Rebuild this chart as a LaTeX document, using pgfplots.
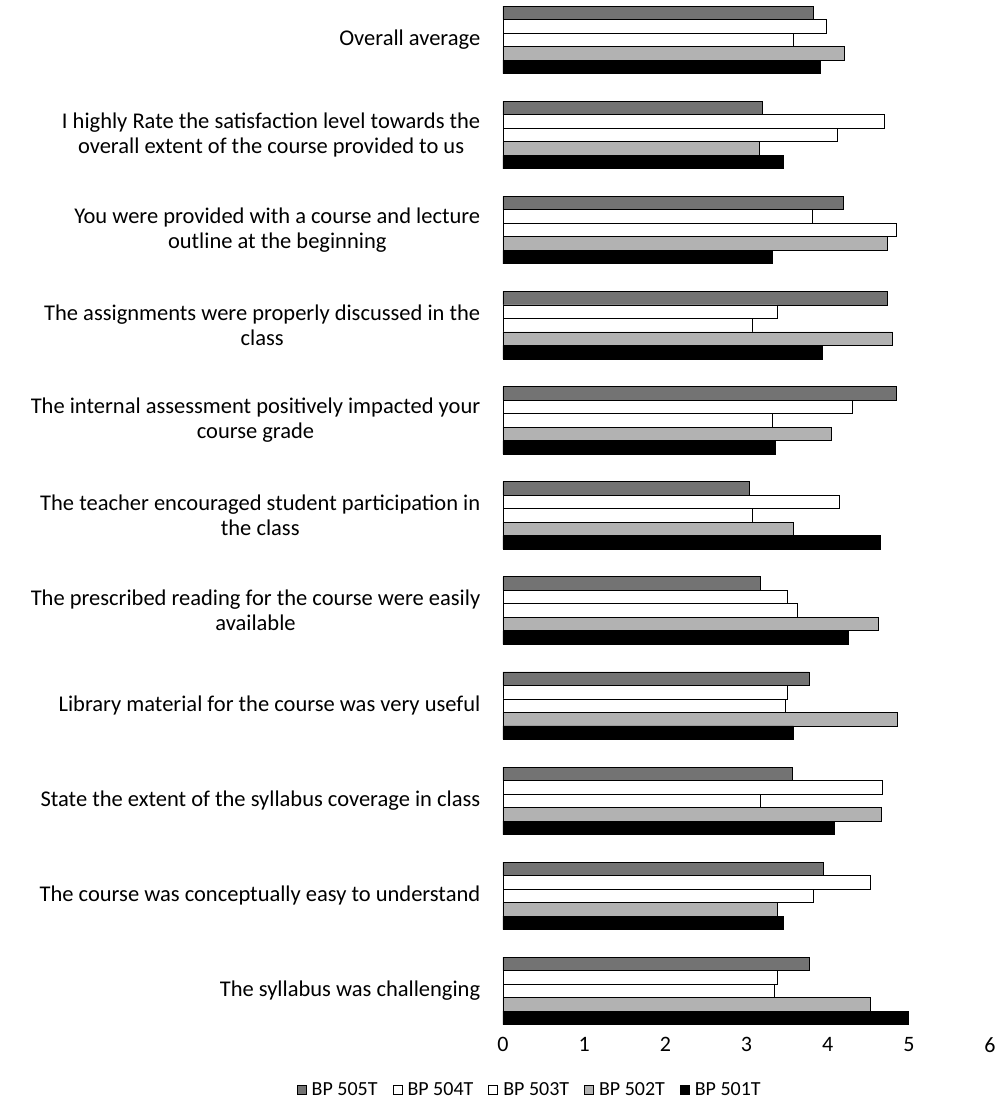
\documentclass[border=0pt]{standalone}
\usepackage{pgfplots}
\pgfplotsset{compat=1.18}
\usepackage{fontspec}
\setmainfont{Carlito}
\begin{document}
\begin{tikzpicture}
\begin{axis}[
  name=ax,
  scale only axis,
  width=487bp, height=1029bp,
  xbar,
  bar width=13.5bp,
  xmin=0, xmax=6,
  ymin=-0.4, ymax=10.42,
  xtick={0,1,2,3,4,5,6},
  ytick={0,1,2,3,4,5,6,7,8,9,10},
  yticklabels={
    {The syllabus was challenging},
    {The course was conceptually easy to understand},
    {State the extent of the syllabus coverage in class},
    {Library material for the course was very useful},
    {The prescribed reading for the course were easily\\available},
    {The teacher encouraged student participation in\\the class},
    {The internal assessment positively impacted your\\course grade},
    {The assignments were properly discussed in the\\class},
    {You were provided with a course and lecture\\outline at the beginning},
    {I highly Rate the satisfaction level towards the\\overall extent of the course provided to us},
    {Overall average}},
  axis line style={draw=none},
  tick style={draw=none},
  yticklabel style={align=center, font=\fontsize{22.5bp}{25bp}\selectfont, xshift=-15bp},
  xticklabel style={font=\fontsize{22bp}{24bp}\selectfont, yshift=-5bp},
  /pgf/number format/assume math mode=true,
  legend style={at={(0.055,-0.059)}, anchor=center, draw=none, legend columns=5,
    font=\fontsize{20bp}{22bp}\selectfont,
    /tikz/every odd column/.append style={column sep=3bp},
    /tikz/every even column/.append style={column sep=13bp}},
  legend image code/.code={\draw[#1, line width=0.9bp] (0bp,-4.5bp) rectangle (9bp,4.5bp);},
]
\addplot[bar shift=27bp, fill=black!55, draw=black, line width=0.8bp] coordinates {
(3.78,0) (3.95,1) (3.56,2) (3.77,3) (3.17,4) (3.04,5) (4.85,6) (4.74,7) (4.20,8) (3.20,9) (3.82,10)};
\addplot[bar shift=13.5bp, fill=white, draw=black, line width=0.8bp] coordinates {
(3.38,0) (4.53,1) (4.67,2) (3.50,3) (3.50,4) (4.14,5) (4.30,6) (3.38,7) (3.81,8) (4.70,9) (3.98,10)};
\addplot[bar shift=0bp, fill=white, draw=black, line width=0.8bp] coordinates {
(3.34,0) (3.82,1) (3.17,2) (3.48,3) (3.63,4) (3.07,5) (3.32,6) (3.07,7) (4.85,8) (4.12,9) (3.58,10)};
\addplot[bar shift=-13.5bp, fill=black!30, draw=black, line width=0.8bp] coordinates {
(4.53,0) (3.38,1) (4.66,2) (4.86,3) (4.63,4) (3.58,5) (4.04,6) (4.80,7) (4.74,8) (3.16,9) (4.21,10)};
\addplot[bar shift=-27bp, fill=black, draw=black, line width=0.8bp] coordinates {
(5.00,0) (3.45,1) (4.08,2) (3.58,3) (4.26,4) (4.65,5) (3.35,6) (3.93,7) (3.32,8) (3.46,9) (3.91,10)};
\legend{BP 505T, BP 504T, BP 503T, BP 502T, BP 501T}
\end{axis}
\pgfresetboundingbox
\path (ax.south west) ++(-503bp,-79bp) rectangle ++(1007bp,1108bp);
\end{tikzpicture}
\end{document}
